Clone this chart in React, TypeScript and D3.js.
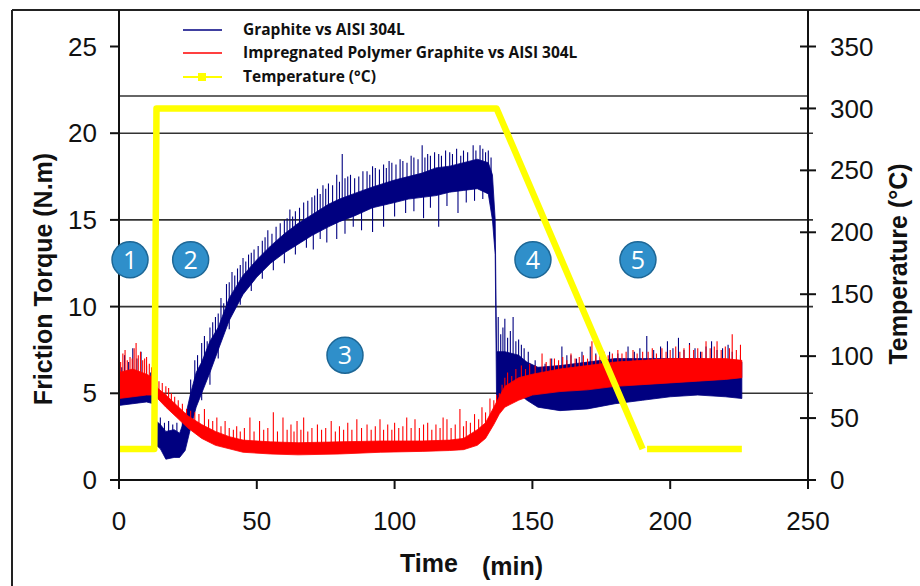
import React from "react";
import * as d3 from "d3";

// ---------- DATA ----------
const timeTicks = [0, 50, 100, 150, 200, 250];
const torqueTicks = [0, 5, 10, 15, 20, 25];
const tempTicks = [0, 50, 100, 150, 200, 250, 300, 350];
const torqueGrid = [5, 10, 15, 20];

// Graphite vs AISI 304L : [time, low, high] envelope of the noisy signal
const graphiteBand: [number, number, number][] = [
  [0, 4.3, 4.9], [5, 4.4, 5.0], [10, 4.5, 5.1], [12.5, 4.4, 5.2], [13.5, 2.0, 3.4],
  [15, 1.8, 3.2], [17, 1.2, 2.8], [20, 1.3, 2.9], [22, 1.3, 2.7], [24, 1.7, 3.6],
  [26, 3.0, 5.0], [28, 4.2, 6.2], [30, 5.0, 6.8], [33, 6.2, 8.0], [36, 7.5, 8.8],
  [40, 9.2, 10.5], [45, 10.7, 11.8], [50, 11.7, 12.7], [55, 12.5, 13.5], [60, 13.1, 14.2],
  [65, 13.6, 14.8], [70, 14.1, 15.3], [76, 14.6, 15.9], [80, 14.9, 16.2], [85, 15.2, 16.5],
  [92, 15.7, 16.9], [100, 16.0, 17.3], [105, 16.2, 17.5], [110, 16.3, 17.7], [115, 16.4, 18.0],
  [120, 16.6, 18.1], [125, 16.7, 18.3], [130, 16.8, 18.5], [134, 16.5, 18.3], [135.5, 15.0, 17.6],
  [136.5, 13.0, 15.0], [137, 4.5, 7.4], [140, 4.6, 7.4], [145, 5.0, 7.2], [148, 4.6, 6.8],
  [152, 4.2, 6.5], [160, 4.0, 6.6], [170, 4.1, 6.8], [180, 4.4, 7.0], [190, 4.6, 7.0],
  [200, 4.8, 7.0], [210, 4.9, 7.0], [220, 4.8, 6.9], [226, 4.7, 6.8],
];

// spikes of the graphite signal: [time, value]
const graphiteSpikes: [number, number][] = [
  [1, 6.5], [2, 7.2], [3.5, 6.8], [5, 7.6], [6.5, 7.0], [8, 7.4], [10, 6.6], [11.5, 6.2],
  [15, 3.6], [16.5, 3.3], [18, 3.4], [19.5, 3.2], [21, 3.3], [23, 3.5],
  [26, 5.8], [27.5, 6.9], [28.5, 7.2], [30, 7.9], [31, 8.3], [32, 8.0], [33, 8.8], [34, 9.1],
  [35, 9.4], [36, 9.6], [37, 10.5], [38, 10.2], [39, 11.3], [40, 11.4], [41, 12.0], [42, 11.8],
  [43, 12.2], [44, 12.4], [45, 12.8], [46, 12.6], [47, 13.0], [48, 13.1], [49, 13.3], [50.5, 13.5],
  [52, 13.8], [53, 14.0], [54, 14.4], [55.5, 14.2], [57, 14.6], [58.5, 14.8], [60, 15.0], [61, 15.1],
  [62, 15.6], [63, 15.2], [64, 15.5], [65.5, 15.7], [67, 16.0], [68.5, 16.1], [70, 16.3], [71, 16.4],
  [72, 16.8], [73, 16.5], [74, 17.0], [75, 16.8], [76, 17.1], [77.5, 17.0], [79, 17.6], [80, 17.2],
  [81, 18.8], [82, 17.4], [83, 17.5], [84, 17.6], [85.5, 17.4], [87, 17.5], [88.5, 17.8], [90, 17.8],
  [91, 17.6], [92, 18.1], [93, 18.0], [94.5, 17.9], [96, 18.2], [97, 18.0], [98, 18.4], [99, 18.3],
  [100.5, 18.2], [102, 18.5], [103, 18.4], [104.5, 18.3], [106, 18.7], [107, 18.6], [108.5, 18.5],
  [110, 19.3], [111, 18.6], [112, 18.8], [113, 18.7], [114.5, 18.9], [116, 18.8], [117, 18.7],
  [118.5, 19.0], [120, 18.9], [121, 18.8], [122.5, 19.1], [124, 18.7], [125, 19.0], [126.5, 18.9],
  [128.5, 19.3], [129.5, 19.0], [131, 19.3], [132, 19.1], [133, 18.9], [134, 19.0], [135, 18.6],
  [30, 4.6], [33, 5.5], [36, 7.0], [40, 8.7], [44, 10.1], [48, 10.9], [52, 11.6], [56, 12.1],
  [60, 12.5], [64, 13.0], [68, 13.4], [70.5, 13.3], [73, 13.9], [75.4, 13.7], [79, 13.9], [82, 14.2],
  [85, 14.6], [88, 14.4], [92, 14.3], [96, 14.6], [100, 15.2], [104, 15.4], [107, 15.5], [110.5, 15.1],
  [113, 15.7], [116, 14.6], [119, 15.8], [123, 15.4], [126, 16.0], [129, 16.1], [132, 16.2],
  [137.6, 9.4], [138.5, 8.4], [139.3, 8.8], [140, 9.3], [141, 8.2], [142, 8.6], [143, 9.4],
  [144, 8.0], [145, 8.1], [146, 7.8], [147, 7.6], [148.5, 7.4], [151, 6.9], [154.6, 6.7],
  [157, 7.0], [160.7, 7.7], [162.5, 7.2], [164, 7.2], [166, 7.0], [168, 7.4], [171, 7.7],
  [173, 7.3], [175.5, 7.1], [178, 7.4], [181, 7.3], [184.7, 7.7], [187, 7.4], [189, 7.6],
  [191.5, 8.3], [194, 7.5], [196.5, 7.7], [199, 8.0], [201, 7.6], [203, 8.2], [205, 7.5],
  [207, 7.9], [209, 7.6], [211, 7.4], [213, 7.7], [215, 8.0], [217, 7.5], [219, 7.6],
  [221, 7.8], [222.5, 7.4], [224, 6.9], [225.5, 7.2],
];

// Impregnated Polymer Graphite vs AISI 304L : [time, low, high]
const polymerBand: [number, number, number][] = [
  [0, 4.7, 6.2], [5, 4.8, 6.4], [10, 4.9, 6.1], [12.5, 4.9, 5.9], [14, 4.7, 5.3],
  [17, 4.2, 4.9], [21, 3.6, 4.3], [25, 3.0, 3.7], [30, 2.4, 3.2], [35, 2.0, 2.8],
  [40, 1.8, 2.5], [45, 1.6, 2.3], [55, 1.5, 2.2], [65, 1.45, 2.15], [80, 1.5, 2.2],
  [95, 1.6, 2.25], [110, 1.65, 2.25], [120, 1.7, 2.3], [125, 1.75, 2.4], [130, 2.0, 2.9],
  [133, 2.4, 3.3], [136, 3.2, 4.2], [138, 3.8, 4.8], [140, 4.2, 5.4], [145, 4.6, 5.9],
  [150, 4.9, 6.1], [160, 5.1, 6.4], [170, 5.2, 6.6], [180, 5.4, 6.8], [190, 5.5, 6.9],
  [200, 5.6, 7.0], [210, 5.7, 7.0], [220, 5.8, 7.0], [226, 5.9, 6.9],
];

const polymerSpikes: [number, number][] = [
  [0.6, 6.8], [1.4, 7.3], [2.2, 7.5], [3, 6.9], [4, 7.1], [4.8, 7.0], [5.5, 7.6], [6.2, 7.9],
  [7, 7.2], [7.8, 7.4], [8.6, 6.9], [9.3, 7.0], [10, 7.1], [11, 6.7], [11.8, 6.5],
  [14.5, 5.7], [15.7, 5.6], [17, 5.4], [18, 5.3], [19, 5.0], [20.2, 4.8], [21.5, 4.6],
  [23, 4.4], [24.5, 4.1], [26, 4.0], [27.5, 3.9], [29, 3.8], [31, 4.1], [32.5, 3.5],
  [34, 3.4], [35.5, 3.6], [37, 3.1], [38.5, 3.4], [40, 3.0], [41.5, 2.9], [42.7, 3.1],
  [44, 2.8], [45.5, 3.0], [47.5, 3.6], [49, 2.8], [51, 3.4], [52.5, 2.9], [54, 3.0],
  [56, 3.9], [57.5, 2.8], [59.5, 3.6], [61, 2.9], [62.4, 3.2], [63.5, 2.8], [64.6, 3.4],
  [66, 2.9], [67, 3.6], [68.5, 2.8], [70, 3.0], [72, 3.2], [73.5, 2.9], [75, 3.0],
  [77, 3.4], [78.5, 2.8], [80, 3.1], [81.5, 2.9], [83, 3.3], [84.5, 2.9], [86.3, 3.5],
  [88, 3.0], [90, 3.2], [91.5, 2.9], [93, 3.1], [94.7, 3.5], [96, 2.9], [97.5, 3.2],
  [99, 2.9], [100, 3.3], [101.5, 3.0], [103, 3.1], [104.4, 3.6], [106, 3.0], [107.4, 3.5],
  [109, 3.0], [110.5, 3.2], [112, 3.3], [113.5, 2.9], [115, 3.2], [116.5, 3.0], [117.6, 3.6],
  [119, 3.5], [120.5, 3.0], [122, 3.2], [123.7, 4.1], [125, 3.1], [126, 3.4], [127.5, 3.3],
  [129, 3.8], [130.5, 3.5], [131.7, 4.2], [133, 3.9], [134.6, 4.7], [136, 4.6], [137, 4.9],
  [138, 5.0], [139, 5.5], [140, 5.9], [141, 6.2], [142.5, 6.0], [144, 6.4], [146, 6.6],
  [147.5, 6.4], [149, 6.7], [151, 6.6], [153.5, 7.3], [155, 6.8], [156.5, 7.0], [158, 7.0],
  [159.5, 6.9], [161, 7.1], [162.5, 6.9], [164, 7.3], [165.5, 7.0], [167, 7.1], [168.5, 7.2],
  [170, 7.0], [171.6, 8.0], [173, 7.2], [174.5, 7.3], [176, 7.4], [177.5, 7.2], [179, 7.3],
  [181, 7.5], [182.5, 7.3], [184, 7.4], [186.5, 7.5], [188, 7.3], [190, 7.4], [192, 7.4],
  [193.5, 7.6], [195, 7.3], [197, 7.6], [198.5, 7.4], [200, 7.5], [202, 7.7], [203.5, 7.4],
  [205, 7.6], [207, 7.8], [208.5, 7.5], [210, 7.6], [211.5, 7.4], [213, 8.0], [214.5, 7.6],
  [216, 7.7], [217, 8.0], [218.5, 7.5], [220, 7.7], [221.5, 7.6], [222.5, 8.4], [224, 7.5],
  [225.5, 7.8],
];

// Temperature (°C): [time, temperature]; null marks the small break
const temperature: ([number, number] | null)[] = [
  [0, 25], [12.8, 25], [13.6, 300], [137, 300], [190, 25], null, [191.6, 25], [226, 25],
];

// numbered stage markers: [time, torque, label]
const stages: [number, number, string][] = [
  [4, 12.7, "1"], [26, 12.7, "2"], [82, 7.2, "3"], [150.2, 12.7, "4"], [188.3, 12.7, "5"],
];

const legendItems = [
  { label: "Graphite vs AISI 304L", color: "#000080", marker: false },
  { label: "Impregnated Polymer Graphite vs AISI 304L", color: "#ff0000", marker: false },
  { label: "Temperature (°C)", color: "#ffff00", marker: true },
];

// ---------- CHART ----------
const W = 920;
const H = 586;
const X0 = 119;
const X1 = 808;
const Y0 = 480;
const YTOP = 10;

export default function App() {
  const x = d3.scaleLinear().domain([0, 250]).range([X0, X1]);
  const yL = d3.scaleLinear().domain([0, 25]).range([Y0, 46.5]);
  const yR = d3.scaleLinear().domain([0, 350]).range([Y0, 46.5]);

  const area = d3
    .area<[number, number, number]>()
    .x((d) => x(d[0]))
    .y0((d) => yL(d[1]))
    .y1((d) => yL(d[2]));

  const tempLine = d3
    .line<[number, number] | null>()
    .defined((d) => d !== null)
    .x((d) => x((d as [number, number])[0]))
    .y((d) => yR((d as [number, number])[1]));

  const mid = (band: [number, number, number][], t: number) => {
    const i = d3.bisector((d: [number, number, number]) => d[0]).left(band, t);
    const a = band[Math.max(0, i - 1)];
    const b = band[Math.min(band.length - 1, i)];
    const f = b[0] === a[0] ? 0 : (t - a[0]) / (b[0] - a[0]);
    return ((a[1] + a[2]) / 2) * (1 - f) + ((b[1] + b[2]) / 2) * f;
  };

  const tickFont = "'Liberation Sans', Arial, sans-serif";
  const legendFont = "'Open Sans', Lato, sans-serif";

  return (
    <div style={{ position: "absolute", left: 0, top: 0 }}>
      <svg width={W} height={H} style={{ display: "block", background: "#fff" }}>
        {/* outer frame */}
        <line x1={12} y1={YTOP} x2={W} y2={YTOP} stroke="#222" strokeWidth={2} />
        <line x1={12} y1={YTOP} x2={12} y2={H} stroke="#222" strokeWidth={2} />

        {/* gridlines */}
        {torqueGrid.map((v) => (
          <line key={"g" + v} x1={X0} x2={X1 + 5} y1={yL(v)} y2={yL(v)} stroke="#333" strokeWidth={1.6} />
        ))}
        {/* legend box bottom */}
        <line x1={X0} x2={X1} y1={96} y2={96} stroke="#333" strokeWidth={1.6} />

        {/* graphite */}
        <g>
          <path d={area(graphiteBand) || ""} fill="#000080" stroke="#000080" strokeWidth={0.8} />
          {graphiteSpikes.map((s, i) => (
            <line key={"gs" + i} x1={x(s[0])} x2={x(s[0])} y1={yL(mid(graphiteBand, s[0]))} y2={yL(s[1])} stroke="#000080" strokeWidth={1.1} />
          ))}
        </g>
        {/* polymer */}
        <g>
          <path d={area(polymerBand) || ""} fill="#ff0000" stroke="#ff0000" strokeWidth={0.8} />
          {polymerSpikes.map((s, i) => (
            <line key={"ps" + i} x1={x(s[0])} x2={x(s[0])} y1={yL(mid(polymerBand, s[0]))} y2={yL(s[1])} stroke="#ff0000" strokeWidth={1.1} />
          ))}
        </g>
        {/* temperature */}
        <path d={tempLine(temperature) || ""} fill="none" stroke="#ffff00" strokeWidth={6.5} strokeLinejoin="round" />

        {/* axes */}
        <line x1={X0} x2={X0} y1={YTOP} y2={Y0} stroke="#111" strokeWidth={2} />
        <line x1={X1} x2={X1} y1={YTOP} y2={Y0} stroke="#111" strokeWidth={2} />
        <line x1={X0} x2={X1} y1={Y0} y2={Y0} stroke="#111" strokeWidth={2} />

        {torqueTicks.map((v) => (
          <g key={"lt" + v}>
            <line x1={X0 - 9} x2={X0} y1={yL(v)} y2={yL(v)} stroke="#111" strokeWidth={2} />
            <text x={97} y={yL(v)} dy="0.35em" textAnchor="end" fontFamily={tickFont} fontSize={26} fill="#111">
              {v}
            </text>
          </g>
        ))}
        {tempTicks.map((v) => (
          <g key={"rt" + v}>
            <line x1={X1 - 8} x2={X1 + 8} y1={yR(v)} y2={yR(v)} stroke="#111" strokeWidth={2} />
            <text x={830} y={yR(v)} dy="0.35em" textAnchor="start" fontFamily={tickFont} fontSize={26} fill="#111">
              {v}
            </text>
          </g>
        ))}
        {timeTicks.map((v) => (
          <g key={"bt" + v}>
            <line x1={x(v)} x2={x(v)} y1={Y0} y2={Y0 + 9} stroke="#111" strokeWidth={2} />
            <text x={x(v)} y={530} textAnchor="middle" fontFamily={tickFont} fontSize={26} fill="#111">
              {v}
            </text>
          </g>
        ))}

        {/* axis titles */}
        <text transform="translate(52,279) rotate(-90)" textAnchor="middle" fontFamily={tickFont} fontWeight="bold" fontSize={25} fill="#111">
          Friction Torque (N.m)
        </text>
        <text transform="translate(907,264) rotate(-90)" textAnchor="middle" fontFamily={tickFont} fontWeight="bold" fontSize={25} fill="#111">
          Temperature (°C)
        </text>
        <text x={400} y={572} fontFamily={tickFont} fontWeight="bold" fontSize={25} fill="#111">
          Time
        </text>
        <text x={482} y={575} fontFamily={tickFont} fontWeight="bold" fontSize={25} fill="#111">
          (min)
        </text>

        {/* legend */}
        {legendItems.map((it, i) => {
          const cy = [30, 53, 77][i];
          return (
            <g key={"lg" + i}>
              <line x1={183} x2={222} y1={cy} y2={cy} stroke={it.color} strokeWidth={it.marker ? 2 : 1.5} />
              {it.marker && <rect x={198} y={cy - 4} width={8} height={8} fill={it.color} />}
              <text x={243} y={cy} dy="0.35em" fontFamily={legendFont} fontWeight={700} fontSize={15.5} fill="#111">
                {it.label}
              </text>
            </g>
          );
        })}

        {/* stage markers */}
        {stages.map((s) => (
          <g key={"st" + s[2]}>
            <circle cx={x(s[0])} cy={yL(s[1])} r={18} fill="#2f8fca" stroke="#1d6796" strokeWidth={1.5} />
            <text x={x(s[0])} y={yL(s[1])} dy="0.36em" textAnchor="middle" fontFamily={legendFont} fontSize={25} fill="#fff">
              {s[2]}
            </text>
          </g>
        ))}
      </svg>
    </div>
  );
}
